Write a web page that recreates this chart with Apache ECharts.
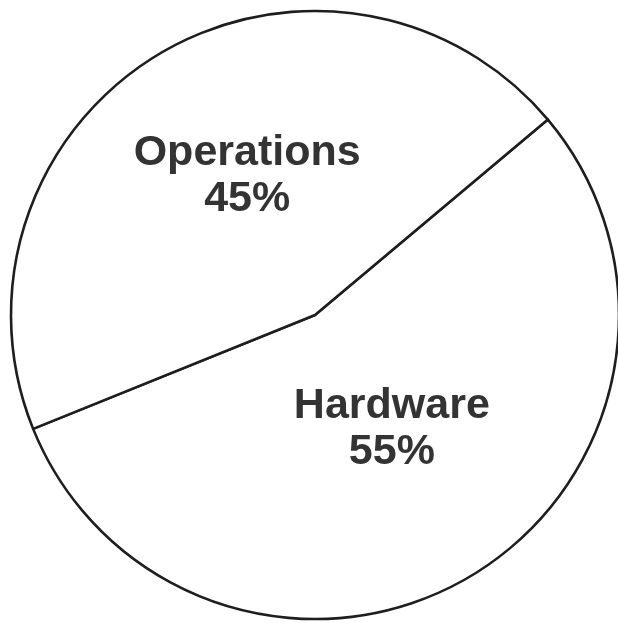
<!DOCTYPE html>
<html>
<head>
<meta charset="utf-8">
<script src="https://cdn.jsdelivr.net/npm/echarts@6/dist/echarts.min.js"></script>
<style>
html,body{margin:0;padding:0;background:#fff;}
#chart{width:618px;height:624px;}
</style>
</head>
<body>
<div id="chart"></div>
<script>
const categories = ['Hardware', 'Operations'];
const values = [55, 45];
const labelShift = [[-3, -19], [12, -6]];

const chart = echarts.init(document.getElementById('chart'), null, {renderer: 'canvas'});
chart.setOption({
  backgroundColor: '#ffffff',
  animation: false,
  series: [{
    type: 'pie',
    center: [315, 315],
    radius: [0, 304],
    startAngle: 40,
    clockwise: true,
    silent: true,
    data: categories.map((c, i) => ({name: c, value: values[i]})),
    itemStyle: {color: '#ffffff', borderColor: '#1e1e1e', borderWidth: 2.6},
    label: {
      show: true,
      position: 'inside',
      formatter: '{b}\n{c}%',
      fontFamily: '"Liberation Sans", Arial, sans-serif',
      fontWeight: 'bold',
      fontSize: 43,
      lineHeight: 46,
      color: '#333333',
      align: 'center'
    },
    labelLayout: function (p) {
      return {dx: labelShift[p.dataIndex][0], dy: labelShift[p.dataIndex][1]};
    },
    labelLine: {show: false},
    emphasis: {disabled: true}
  }]
});
</script>
</body>
</html>
